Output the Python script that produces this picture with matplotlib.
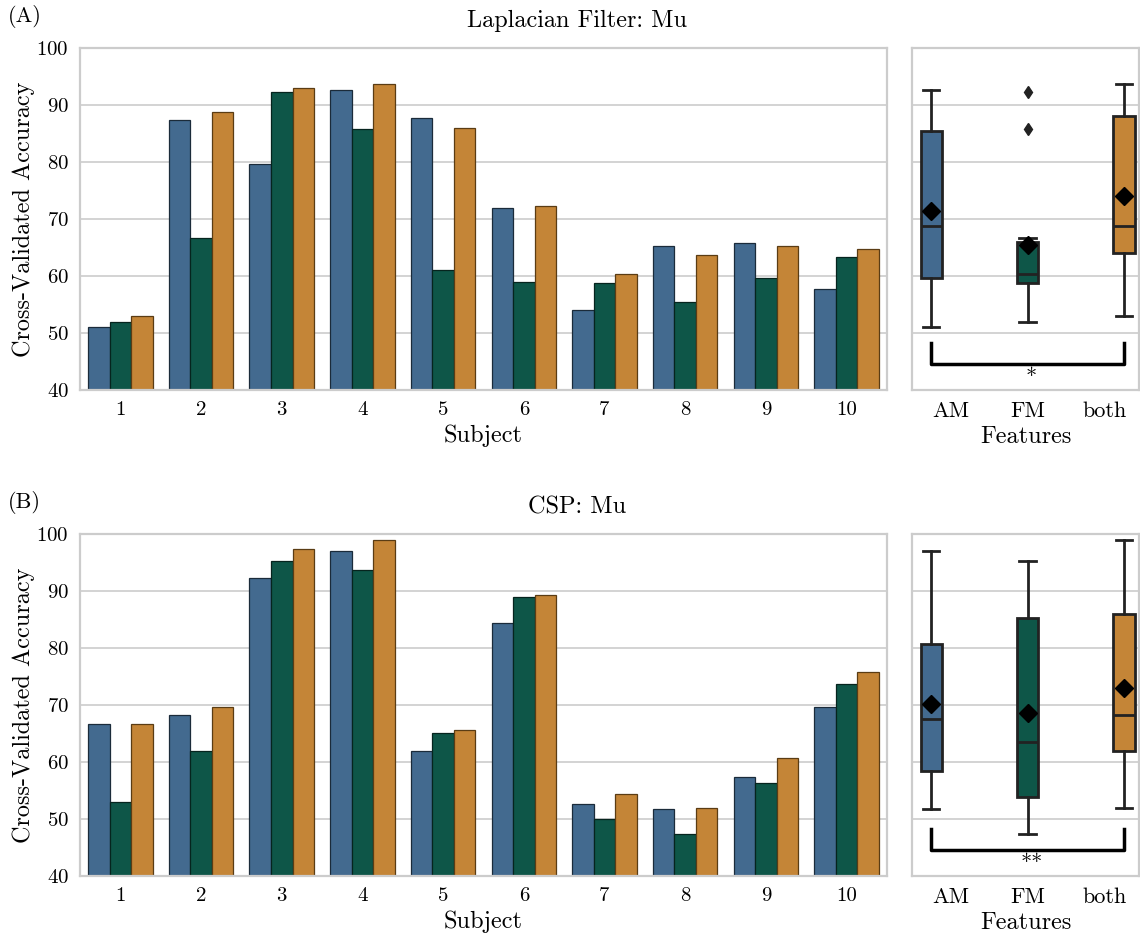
import matplotlib
matplotlib.use("Agg")
import matplotlib.pyplot as plt
import numpy as np

plt.rcParams['font.family'] = ['cmr10', 'DejaVu Serif']
plt.rcParams['axes.formatter.use_mathtext'] = True
plt.rcParams['mathtext.fontset'] = 'cm'

subjects = ['1', '2', '3', '4', '5', '6', '7', '8', '9', '10']
features = ['AM', 'FM', 'both']
colors = ['#436a8f', '#0e5648', '#c48537']
edges = ['#1b2b3a', '#06241e', '#5a3c14']

# panel A: Laplacian filter, mu band
lap_am = [51.0, 87.4, 79.7, 92.7, 87.8, 72.0, 54.0, 65.3, 65.7, 57.7]
lap_fm = [52.0, 66.7, 92.3, 85.7, 61.0, 59.0, 58.7, 55.4, 59.7, 63.4]
lap_both = [53.0, 88.7, 93.0, 93.7, 86.0, 72.3, 60.4, 63.7, 65.3, 64.7]

# panel B: CSP, mu band
csp_am = [66.7, 68.3, 92.3, 97.0, 62.0, 84.3, 52.7, 51.7, 57.3, 69.7]
csp_fm = [53.0, 62.0, 95.3, 93.7, 65.0, 89.0, 50.0, 47.3, 56.3, 73.7]
csp_both = [66.7, 69.7, 97.3, 99.0, 65.7, 89.3, 54.3, 52.0, 60.7, 75.7]

panels = [
    ('(A)', 'Laplacian Filter: Mu', [lap_am, lap_fm, lap_both], '*'),
    ('(B)', 'CSP: Mu', [csp_am, csp_fm, csp_both], '**'),
]

fig = plt.figure(figsize=(11.4, 9.35), dpi=100)

grid_c = '#cccccc'
lab_fs = 17.5


def style_axes(ax):
    ax.set_ylim(40, 100)
    ax.set_yticks(range(40, 101, 10))
    ax.grid(axis='y', color=grid_c, lw=1.2, zorder=0)
    ax.set_axisbelow(True)
    for s in ax.spines.values():
        s.set_color(grid_c)
        s.set_linewidth(1.6)
    ax.tick_params(length=0, labelsize=15, pad=8)


rows = [(0.5829, 0.9487), (0.0631, 0.4289)]
for (tag, title, series, stars), (bot, top) in zip(panels, rows):
    h = top - bot
    ax = fig.add_axes([0.0702, bot, 0.778 - 0.0702, h])
    bx = fig.add_axes([0.8, bot, 0.1995, h])
    style_axes(ax)
    style_axes(bx)

    x = np.arange(len(subjects))
    w = 0.8 / 3
    for i, vals in enumerate(series):
        ax.bar(x + (i - 1) * w, np.array(vals) - 40, w, bottom=40,
               color=colors[i], edgecolor=edges[i], lw=0.9, zorder=2)
    ax.set_xlim(-0.5, 9.5)
    ax.set_xticks(x)
    ax.set_xticklabels(subjects)
    ax.set_xlabel('Subject', fontsize=lab_fs, labelpad=4)
    ax.set_ylabel('Cross-Validated Accuracy', fontsize=lab_fs, labelpad=1)

    bp = bx.boxplot(series, positions=[0, 1, 2], widths=0.22, patch_artist=True,
                    showmeans=True, capwidths=0.17, manage_ticks=False,
                    meanprops=dict(marker='D', markerfacecolor='black',
                                   markeredgecolor='black', markersize=9),
                    flierprops=dict(marker='d', markerfacecolor='#222222',
                                    markeredgecolor='#222222', markersize=6),
                    medianprops=dict(color='#222222', lw=2),
                    whiskerprops=dict(color='#222222', lw=2),
                    capprops=dict(color='#222222', lw=2),
                    boxprops=dict(edgecolor='#222222', lw=2), zorder=3)
    for patch, c in zip(bp['boxes'], colors):
        patch.set_facecolor(c)
    bx.set_xlim(-0.2, 2.16)
    # tick labels sit slightly inward of the boxes, as in the source figure
    bx.set_xticks([0.2, 1.0, 1.8])
    bx.set_xticklabels(features, fontsize=16)
    bx.set_yticklabels([])
    bx.set_xlabel('Features', fontsize=lab_fs, labelpad=4)

    # significance bracket between AM and both
    bx.plot([0, 0, 2, 2], [48.2, 44.6, 44.6, 48.2], color='black', lw=2.5,
            zorder=4)
    bx.text(1.04, 44.0, stars, ha='center', va='top', fontsize=16)

    fig.text(0.007, top + 0.021, tag, fontsize=16, va='bottom')
    fig.text(0.506, top + 0.017, title, fontsize=lab_fs, ha='center',
             va='bottom')

fig.savefig('out.png', dpi=100)
